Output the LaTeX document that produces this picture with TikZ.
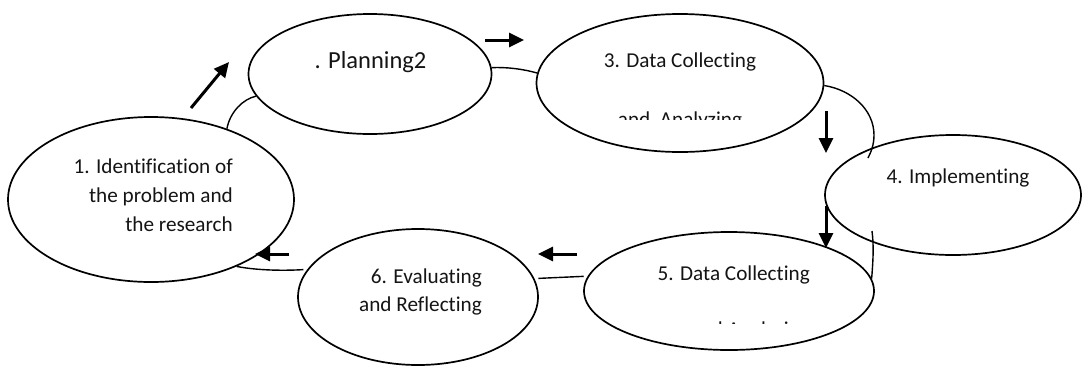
\documentclass[tikz,border=0pt]{standalone}
\usepackage{fontspec}
\setmainfont{Carlito}[Ligatures=NoCommon]
\usetikzlibrary{shapes.geometric,arrows.meta,calc}
\tikzset{
  stage/.style={draw, ellipse, inner sep=0pt, line width=1.7pt},
  lbl/.style={inner sep=0pt, text=black!92, font=\fontsize{21.2}{25}\selectfont},
  biglbl/.style={inner sep=0pt, text=black!92, font=\fontsize{24.5}{29}\selectfont},
  flow/.style={line width=3pt, -{Triangle[length=15pt,width=14pt]}},
  link/.style={line width=1.4pt},
}
\begin{document}
\begin{tikzpicture}[x=1pt,y=-1pt]
\useasboundingbox (0,0) rectangle (1082,365);
% stages
\node[stage, minimum width=286pt, minimum height=165pt] (e1) at (151,199.5) {};
\node[stage, minimum width=243pt, minimum height=120pt] (e2) at (370,74) {};
\node[stage, minimum width=287pt, minimum height=138pt] (e3) at (680,83) {};
\node[stage, minimum width=256pt, minimum height=120pt] (e4) at (953,195) {};
\node[stage, minimum width=290pt, minimum height=118pt] (e5) at (729,291) {};
\node[stage, minimum width=240pt, minimum height=136pt] (e6) at (418,297) {};
% texts
\node[lbl, anchor=base east] (t1a) at (233,173) {1. Identification of};
\node[lbl, anchor=base east] (t1b) at (233,202) {the problem and};
\node[lbl, anchor=base east] (t1c) at (233,231) {the research};
\node[biglbl, anchor=base] (t2) at (370.5,68) {. Planning2};
\node[lbl, anchor=base] (t3a) at (680,67) {3. Data Collecting};
\begin{scope}
  \clip (537,0) rectangle (824,119.3);
  \node[lbl, anchor=base] (t3b) at (680,126.3) {and\ \ Analyzing};
\end{scope}
\node[lbl, anchor=base] (t4) at (958,183) {4. Implementing};
\node[lbl, anchor=base east] (t5a) at (810,280) {5. Data Collecting};
\begin{scope}
  \clip (585,240) rectangle (874,323.3);
  \node[lbl, anchor=base east] (t5b) at (810,336.3) {and Analyzing};
\end{scope}
\node[lbl, anchor=base east] (t6a) at (482,283) {6. Evaluating};
\node[lbl, anchor=base east] (t6b) at (482,311) {and Reflecting};
% free coordinates
\coordinate (a12s) at (191,108); \coordinate (a12e) at (229,62);
\coordinate (a23s) at (485,40);  \coordinate (a23e) at (524,40);
\coordinate (a34s) at (826,111); \coordinate (a34e) at (826,153);
\coordinate (a45s) at (826,206); \coordinate (a45e) at (826,248);
\coordinate (a56s) at (577,254); \coordinate (a56e) at (538,254);
\coordinate (a61s) at (289,254); \coordinate (a61e) at (255,254);
\coordinate (c4in) at (868,158);
\coordinate (c4out) at (872,231);
% arrows
\draw[flow] (a12s) -- (a12e);
\draw[flow] (a23s) -- (a23e);
\draw[flow] (a34s) -- (a34e);
\draw[flow] (a45s) -- (a45e);
\draw[flow] (a56s) -- (a56e);
\draw[flow] (a61s) -- (a61e);
% links
\draw[link] (e1.43.6) .. controls (230,112) and (243,99) .. (e2.191.5);
\draw[link] (e2.3.3) .. controls (507,67) and (523,69) .. (e3.176);
\draw[link] (e3.-1.6) .. controls (852,90) and (874,110) .. (874,135)
            .. controls (874,145) and (871,152) .. (c4in);
\draw[link] (c4out) .. controls (874,246) and (873,262) .. (e5.5.7);
\draw[link, shorten <=4pt, shorten >=4pt] (e6.9.4) -- (e5.174.7);
\draw[link, shorten <=4pt] (e6.166.8) .. controls (280,271) and (255,270) .. (e1.-38.8);
\end{tikzpicture}
\end{document}
